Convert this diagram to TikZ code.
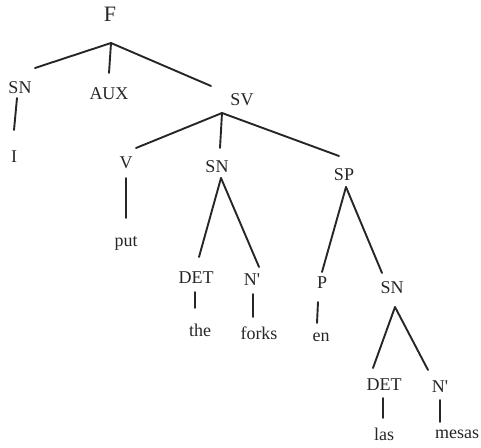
\documentclass[tikz,border=0pt]{standalone}
\usepackage{fontspec}
\setmainfont{Liberation Serif}
\newfontfamily\treefont{Liberation Serif}
\begin{document}
\begin{tikzpicture}[x=1pt,y=-1pt,
  lab/.style={inner sep=0pt,text=black!85,font=\treefont\fontsize{18}{18}\selectfont},
  big/.style={inner sep=0pt,text=black!85,font=\treefont\fontsize{22}{22}\selectfont},
  edge/.style={draw=black!85,line width=1.9pt,line cap=round}]
\useasboundingbox (0,0) rectangle (481,447);
% labels
\node[big] (F) at (110,14) {F};
\node[lab] (SNa) at (20,88) {SN};
\node[lab] (AUX) at (109,94) {AUX};
\node[lab] (SV) at (242,100) {SV};
\node[lab] (I) at (14,157) {I};
\node[lab] (V) at (126,163) {V};
\node[lab] (SNb) at (217,167) {SN};
\node[lab] (SP) at (344,175) {SP};
\node[lab] (put) at (126,243) {put};
\node[lab] (DETa) at (196,278) {DET};
\node[lab] (Na) at (252,280) {N\textquotesingle};
\node[lab] (the) at (200,330) {the};
\node[lab] (forks) at (259,333) {forks};
\node[lab] (P) at (322,283) {P};
\node[lab] (SNc) at (392,288) {SN};
\node[lab] (en) at (321,337) {en};
\node[lab] (DETb) at (384,385) {DET};
\node[lab] (Nb) at (440,387) {N\textquotesingle};
\node[lab] (las) at (384,434) {las};
\node[lab] (mesas) at (457,434) {mesas};
% connector end points
\coordinate (Fa) at (111,43);
\coordinate (SNat) at (35,68);
\coordinate (AUXt) at (109,73);
\coordinate (SVt) at (211,86);
\coordinate (SNab) at (17,98);
\coordinate (It) at (14,130);
\coordinate (SVa) at (222,113);
\coordinate (Vt) at (136,148);
\coordinate (SNbt) at (220,148);
\coordinate (SPt) at (339,156);
\coordinate (Vb) at (126,178);
\coordinate (putt) at (126,218);
\coordinate (SNba) at (221,178);
\coordinate (DETat) at (199,257);
\coordinate (Nat) at (259,267);
\coordinate (DETab) at (195,292);
\coordinate (thet) at (195,308);
\coordinate (Nab) at (253,294);
\coordinate (forkst) at (253,317);
\coordinate (SPa) at (346,187);
\coordinate (Pt) at (322,272);
\coordinate (SNct) at (382,273);
\coordinate (Pb) at (318,302);
\coordinate (ent) at (317,323);
\coordinate (SNca) at (395,307);
\coordinate (DETbt) at (373,368);
\coordinate (Nbt) at (428,370);
\coordinate (DETbb) at (383,398);
\coordinate (last) at (383,418);
\coordinate (Nbb) at (440,400);
\coordinate (mesast) at (440,422);
% connectors
\draw[edge] (Fa) -- (SNat);
\draw[edge] (Fa) -- (AUXt);
\draw[edge] (Fa) -- (SVt);
\draw[edge] (SNab) -- (It);
\draw[edge] (SVa) -- (Vt);
\draw[edge] (SVa) -- (SNbt);
\draw[edge] (SVa) -- (SPt);
\draw[edge] (Vb) -- (putt);
\draw[edge] (SNba) -- (DETat);
\draw[edge] (SNba) -- (Nat);
\draw[edge] (DETab) -- (thet);
\draw[edge] (Nab) -- (forkst);
\draw[edge] (SPa) -- (Pt);
\draw[edge] (SPa) -- (SNct);
\draw[edge] (Pb) -- (ent);
\draw[edge] (SNca) -- (DETbt);
\draw[edge] (SNca) -- (Nbt);
\draw[edge] (DETbb) -- (last);
\draw[edge] (Nbb) -- (mesast);
\end{tikzpicture}
\end{document}
